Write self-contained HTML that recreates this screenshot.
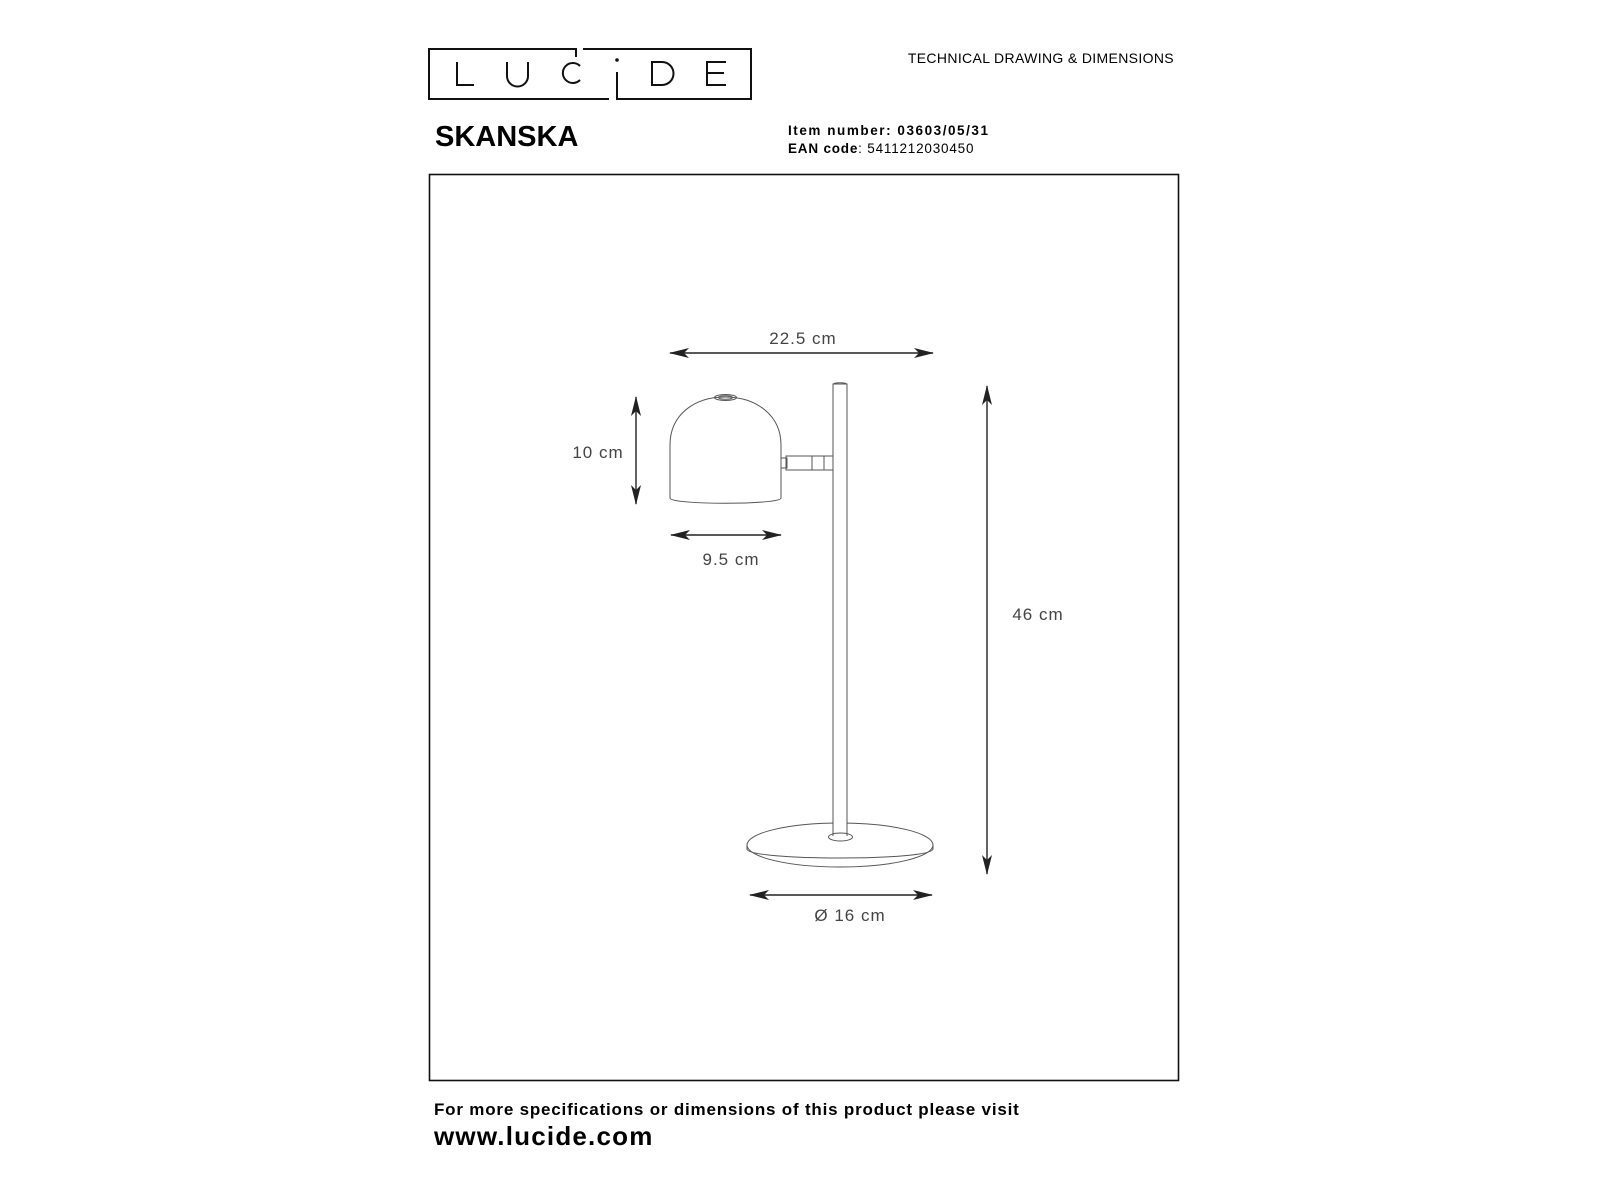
<!DOCTYPE html>
<html><head><meta charset="utf-8"><style>
html,body{margin:0;padding:0;background:#fff;}
body{width:1600px;height:1200px;position:relative;overflow:hidden;font-family:"Liberation Sans",sans-serif;}
.t{position:absolute;white-space:nowrap;color:#000;}
</style></head><body>
<svg width="1600" height="1200" style="position:absolute;left:0;top:0" xmlns="http://www.w3.org/2000/svg">
<defs>
<marker id="ah" viewBox="0 0 20 10" refX="19" refY="5" markerWidth="20" markerHeight="10" markerUnits="userSpaceOnUse" orient="auto-start-reverse">
<path d="M0,0 L20,5 L0,10 L5,5 Z" fill="#222"/>
</marker>
</defs>
<!-- logo -->
<g fill="none" stroke="#111" stroke-width="2">
<path d="M576,57 L576,49 L429,49 L429,99 L609,99"/>
<path d="M583,49 L751,49 L751,99 L617,99 L617,72"/>
<path d="M457,62 L457,85 L474,85"/>
<path d="M507,62 L507,76 A10.5,10.5 0 0 0 528,76 L528,62"/>
<path d="M580,66 A10,10 0 1 0 580,80"/>
<path d="M652,62 L652,85 L662,85 A11.5,11.5 0 0 0 662,62 Z"/>
<path d="M726,62 L707,62 L707,85 L726,85 M707,73 L724,73"/>
</g>
<circle cx="617" cy="60" r="1.8" fill="#111"/>
<!-- frame -->
<rect x="429.5" y="174.5" width="749" height="906" fill="none" stroke="#111" stroke-width="1.6"/>
<!-- lamp -->
<g fill="none" stroke="#555" stroke-width="1">
<path d="M670,498 L670,445 C670,415 694,397 725,397 C756,397 781,415 781,445 L781,498 C781,505 670,505 670,498"/>
<ellipse cx="725.5" cy="397.5" rx="11" ry="3"/>
<ellipse cx="725.5" cy="397.5" rx="7" ry="1.8"/>
<rect x="833" y="384" width="14" height="451" fill="#fff"/>
<ellipse cx="840" cy="384.5" rx="7" ry="1.8"/>
<rect x="786" y="456" width="53" height="14" fill="#fff"/>
<rect x="781" y="458" width="6" height="10"/>
<path d="M812,456 L812,470 M824,456 L824,470"/>
<ellipse cx="840" cy="845" rx="93" ry="22" fill="#fff"/>
<path d="M747,845 L747,849 C747,861 933,861 933,849 L933,845"/>
<rect x="833" y="384" width="14" height="452" fill="#fff"/>
<ellipse cx="840.5" cy="837" rx="12" ry="4" fill="#fff"/>
<path d="M833,836 L833,826 M847,836 L847,826"/>
</g>
<!-- dimension lines -->
<g stroke="#222" stroke-width="1.4" marker-start="url(#ah)" marker-end="url(#ah)">
<line x1="670" y1="353" x2="933" y2="353"/>
<line x1="636" y1="397" x2="636" y2="504"/>
<line x1="671" y1="535" x2="781" y2="535"/>
<line x1="987" y1="386" x2="987" y2="874"/>
<line x1="750" y1="895" x2="932" y2="895"/>
</g>
<g font-family="Liberation Sans, sans-serif" font-size="17" fill="#444" text-anchor="middle" letter-spacing="1">
<text x="803" y="344">22.5 cm</text>
<text x="598" y="458">10 cm</text>
<text x="731" y="565">9.5 cm</text>
<text x="1038" y="620">46 cm</text>
<text x="850" y="921">Ø 16 cm</text>
</g>
</svg>
<div class="t" style="right:426px;top:50px;font-size:14px;letter-spacing:0.35px;">TECHNICAL DRAWING &amp; DIMENSIONS</div>
<div class="t" style="left:435px;top:121px;font-size:29px;font-weight:bold;">SKANSKA</div>
<div class="t" style="left:788px;top:123px;font-size:13.5px;font-weight:bold;letter-spacing:1.55px;">Item number: 03603/05/31</div>
<div class="t" style="left:788px;top:141px;font-size:13.5px;letter-spacing:0.8px;"><b>EAN code</b>: 5411212030450</div>
<div class="t" style="left:434px;top:1100px;font-size:17px;font-weight:bold;letter-spacing:0.8px;">For more specifications or dimensions of this product please visit</div>
<div class="t" style="left:434px;top:1121px;font-size:26px;font-weight:bold;letter-spacing:1.2px;">www.lucide.com</div>
</body></html>
